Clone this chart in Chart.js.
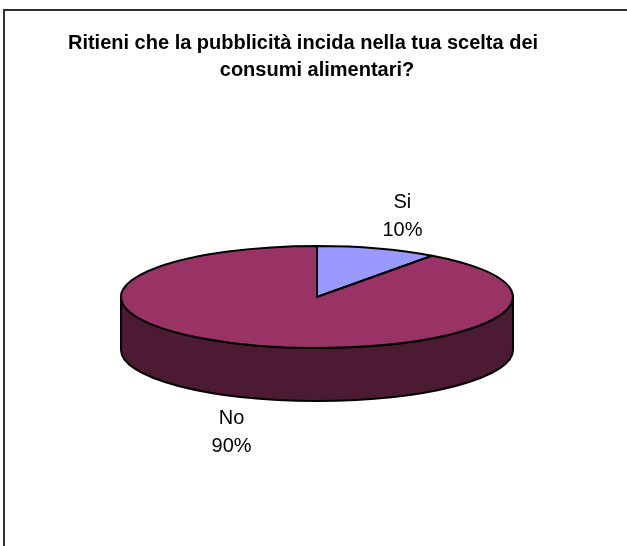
<!DOCTYPE html>
<html>
<head>
<meta charset="utf-8">
<script src="https://cdn.jsdelivr.net/npm/chart.js@4/dist/chart.umd.min.js"></script>
<style>
    html, body { margin: 0; padding: 0; background: #ffffff; }
    #wrap { width: 627px; height: 546px; position: relative; }
</style>
</head>
<body>
<div id="wrap"><canvas id="chart" width="627" height="546"></canvas></div>
<script>
"use strict";

var TITLE_LINES = ['Ritieni che la pubblicità incida nella tua scelta dei', 'consumi alimentari?'];
var LABELS = ['Si', 'No'];
var VALUES = [10, 90];
var TOP_COLORS = ['#9999ff', '#993366'];
var SIDE_COLORS = ['#4c4c80', '#4c1a33'];

var TILT = 0.26;   // ellipse height / width
var DEPTH = 0.27;  // side wall height / radius

function frontRanges(a0, a1) {
    // parts of [a0, a1] falling in the visible front half (0..PI, mod 2PI)
    var out = [];
    [-2, 0, 2].forEach(function(k) {
        var lo = Math.max(a0, k * Math.PI);
        var hi = Math.min(a1, k * Math.PI + Math.PI);
        if (hi > lo) {
            out.push([lo, hi]);
        }
    });
    return out;
}

var pie3d = {
    id: 'pie3d',
    beforeDraw: function(chart) {
        var ctx = chart.ctx;
        ctx.save();
        ctx.fillStyle = '#ffffff';
        ctx.fillRect(0, 0, chart.width, chart.height);
        ctx.strokeStyle = '#303030';
        ctx.lineWidth = 2;
        ctx.strokeRect(4, 10, 900, 900);
        // title, the way the spreadsheet wrapped it
        ctx.fillStyle = '#000000';
        ctx.font = 'bold 20px "Liberation Sans", Arial, sans-serif';
        ctx.textAlign = 'center';
        ctx.textBaseline = 'middle';
        ctx.fillText(TITLE_LINES[0], 303, 43);
        ctx.fillText(TITLE_LINES[1], 317, 70);
        ctx.restore();
    },
    beforeDatasetsDraw: function(chart) {
        var ctx = chart.ctx;
        var arcs = chart.getDatasetMeta(0).data;
        var cx = arcs[0].x, cy = arcs[0].y;
        var rx = arcs[0].outerRadius, ry = rx * TILT, depth = rx * DEPTH;
        ctx.save();
        ctx.lineWidth = 2;
        ctx.lineJoin = 'round';
        ctx.strokeStyle = '#000000';
        // side walls
        arcs.forEach(function(arc, i) {
            frontRanges(arc.startAngle, arc.endAngle).forEach(function(r) {
                ctx.beginPath();
                ctx.ellipse(cx, cy, rx, ry, 0, r[0], r[1], false);
                ctx.ellipse(cx, cy + depth, rx, ry, 0, r[1], r[0], true);
                ctx.closePath();
                ctx.fillStyle = SIDE_COLORS[i];
                ctx.fill();
                ctx.stroke();
            });
        });
        // top faces
        arcs.forEach(function(arc, i) {
            ctx.beginPath();
            ctx.moveTo(cx, cy);
            ctx.ellipse(cx, cy, rx, ry, 0, arc.startAngle, arc.endAngle, false);
            ctx.closePath();
            ctx.fillStyle = TOP_COLORS[i];
            ctx.fill();
            ctx.stroke();
        });
        // labels
        ctx.fillStyle = '#000000';
        ctx.font = '20px "Liberation Sans", Arial, sans-serif';
        ctx.textAlign = 'center';
        ctx.textBaseline = 'middle';
        var total = VALUES.reduce(function(a, b) { return a + b; }, 0);
        arcs.forEach(function(arc, i) {
            var mid = (arc.startAngle + arc.endAngle) / 2;
            var s = Math.sin(mid);
            var lx = cx + rx * 1.41 * Math.cos(mid);
            var ly = cy + (ry + rx * 0.17) * s + (s > 0 ? depth + 2 : 0);
            var pct = Math.round(VALUES[i] * 100 / total) + '%';
            ctx.fillText(LABELS[i], lx, ly - 14);
            ctx.fillText(pct, lx, ly + 14);
        });
        ctx.restore();
        return false;
    }
};

var chart = new Chart(document.getElementById('chart'), {
    type: 'pie',
    data: {
        labels: LABELS,
        datasets: [{
            data: VALUES,
            backgroundColor: TOP_COLORS,
            borderWidth: 0,
            hoverOffset: 0
        }]
    },
    options: {
        responsive: false,
        animation: false,
        devicePixelRatio: 1,
        layout: {
            padding: { left: 7, right: 0, top: 101, bottom: 53 }
        },
        plugins: {
            legend: { display: false },
            tooltip: { enabled: false },
            title: { display: false }
        }
    },
    plugins: [pie3d]
});
</script>
</body>
</html>
